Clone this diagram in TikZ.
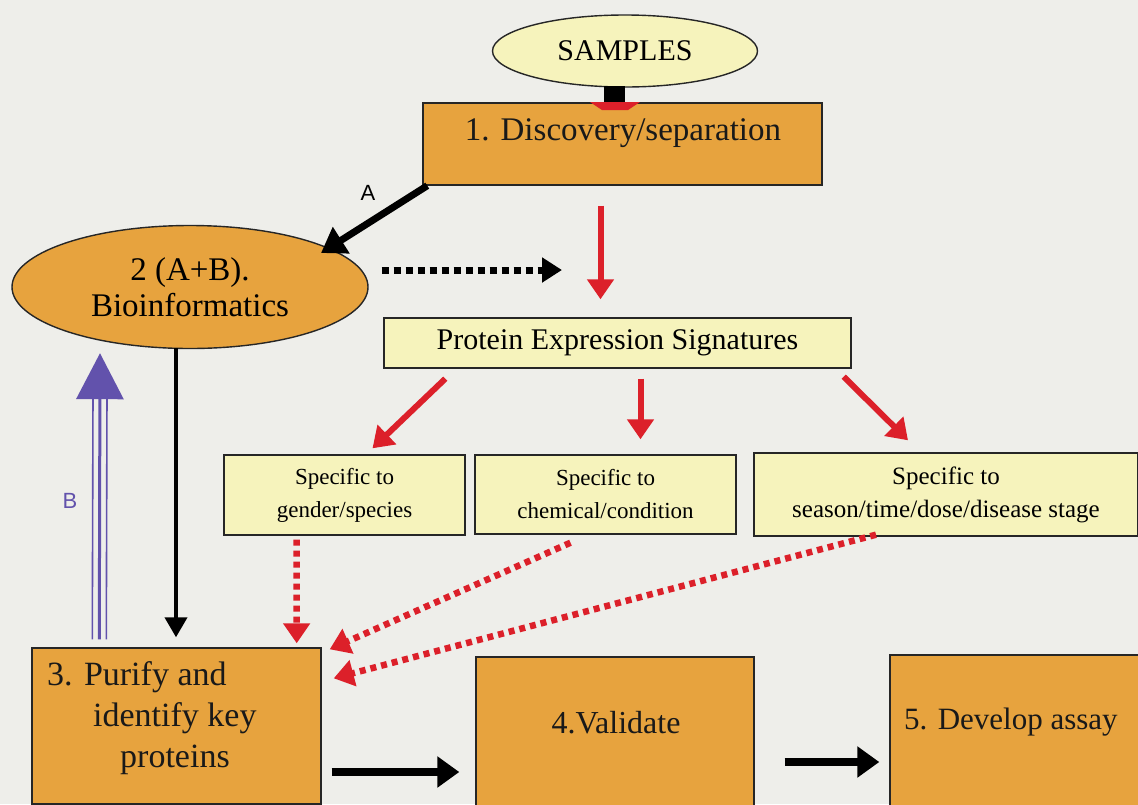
\documentclass[tikz,border=0pt]{standalone}
\usepackage{fontspec}
\setmainfont{Liberation Serif}
\newfontfamily\labfont{Liberation Sans}
\usetikzlibrary{shapes.geometric,arrows.meta,calc}
\definecolor{bg}{RGB}{238,238,234}
\definecolor{orng}{RGB}{231,163,62}
\definecolor{pyel}{RGB}{246,243,188}
\definecolor{rd}{RGB}{220,32,42}
\definecolor{blu}{RGB}{98,82,172}
\begin{document}
\begin{tikzpicture}[x=1pt,y=-1pt,
  obox/.style={draw=black!85, line width=1.4pt, fill=orng, rectangle, inner sep=0pt},
  ybox/.style={draw=black!85, line width=1.4pt, fill=pyel, rectangle, inner sep=0pt},
  txt/.style={inner sep=0pt, text=black!90},
  blk/.style={line width=6pt, draw=black, -{Triangle[length=20pt,width=26pt]}},
  red/.style={line width=6pt, draw=rd, -{Triangle[length=20pt,width=26pt]}},
  reddot/.style={line width=6.5pt, draw=rd, dash pattern=on 6pt off 5pt, -{Triangle[length=20pt,width=26pt]}},
  lab/.style={inner sep=0pt, font=\labfont\fontsize{22}{24}\selectfont}
]
\useasboundingbox (0,0) rectangle (1138,804);
\clip (0,0) rectangle (1138,804);
\fill[bg] (0,0) rectangle (1138,804);

% nodes
\node[ellipse, draw=black!85, line width=1.4pt, fill=pyel, inner sep=0pt,
      minimum width=265pt, minimum height=72pt,
      font=\fontsize{30}{32}\selectfont] (samples) at (625,51) {SAMPLES};
\node[obox, minimum width=399pt, minimum height=82pt] (disc) at (622.5,144) {};
\node[txt, font=\fontsize{33}{35}\selectfont] (disct) at (623,133) {1. Discovery/separation};

\node[ellipse, draw=black!85, line width=1.4pt, fill=orng, inner sep=0pt,
      minimum width=356pt, minimum height=123pt, align=center,
      font=\fontsize{33}{36}\selectfont] (bio) at (190,287) {2 (A+B).\\Bioinformatics};

\node[ybox, minimum width=467pt, minimum height=50pt,
      font=\fontsize{30}{32}\selectfont] (pes) at (617.5,343) {Protein Expression Signatures};

\node[ybox, minimum width=241pt, minimum height=80pt, align=center,
      font=\fontsize{23}{33}\selectfont] (s1) at (344.5,495) {Specific to\\gender/species};
\node[ybox, minimum width=261pt, minimum height=79pt, align=center,
      font=\fontsize{23}{33}\selectfont] (s2) at (605.5,494.5) {Specific to\\chemical/condition};
\node[ybox, minimum width=384pt, minimum height=83pt, align=center,
      font=\fontsize{25}{33}\selectfont] (s3) at (946,494.5) {Specific to\\season/time/dose/disease stage};

\node[obox, minimum width=289pt, minimum height=156pt] (b3) at (176.5,726) {};
\node[txt, font=\fontsize{34}{41}\selectfont, align=left, anchor=north west] (b3t) at (47,661)
      {3. Purify and\\\hspace*{46pt}identify key\\\hspace*{73pt}proteins};
\node[obox, minimum width=278pt, minimum height=160pt] (b4) at (615,737) {};
\node[txt, font=\fontsize{32}{34}\selectfont] (b4t) at (616,723) {4.Validate};
\node[obox, minimum width=260pt, minimum height=162pt] (b5) at (1020,736) {};
\node[txt, font=\fontsize{31}{33}\selectfont, anchor=west] (b5t) at (904,722) {5. Develop assay};

% samples -> discovery
\coordinate (sdTop) at (614.5,86);
\fill[rd] (590,102) -- (640,102) -- (628,110) -- (602,110) -- cycle;
\draw[line width=21pt, draw=black] (sdTop) -- (sdTop |- disc.north);

% A arrow
\coordinate (aS) at ($(disc.south west)+(5,0)$);
\coordinate (aE) at ($(bio.center)+(131,-34)$);
\draw[line width=7pt, draw=black, -{Triangle[length=24pt,width=30pt]}] (aS) -- (aE);
\node[lab] (A) at (368,193) {A};

% dotted black
\coordinate (dS) at ($(bio.east)+(13,-17)$);
\coordinate (dE) at (562,270);
\draw[line width=7pt, dash pattern=on 7pt off 5pt, -{Triangle[length=20pt,width=24pt]}] (dS) -- (dE);

% red down to PES
\coordinate (rS) at ($(disc.south)+(-22,20)$);
\draw[red] (rS) -- ($(pes.north)+(-17,-18)$);

% PES -> specifics
\draw[red] ($(pes.south west)+(62,10)$) -- ($(s1.north)+(28,-6)$);
\draw[red] ($(pes.south)+(23,10)$) -- ($(s2.north)+(35,-15)$);
\draw[red] ($(pes.south east)+(-8,8)$) -- ($(s3.north)+(-38,-12)$);

% black down from bio
\draw[line width=4pt, draw=black, -{Triangle[length=20pt,width=22pt]}] ($(bio.south)+(-14,-1)$) -- ($(b3.north)+(-0.5,-10)$);

% blue triple arrow
\coordinate (bS) at ($(b3.north west)+(68,-8)$);
\coordinate (bE) at ($(bio.south)+(-90,4)$);
\draw[line width=1.6pt, draw=blu] ($(bS)+(-7,0)$) -- ($(bE)+(-7,40)$);
\draw[line width=1.6pt, draw=blu] ($(bS)+(7,0)$) -- ($(bE)+(7,40)$);
\draw[line width=3pt, draw=blu, -{Triangle[length=46pt,width=47pt]}] (bS) -- (bE);
\node[lab, text=blu] (B) at (70,501) {B};

% red dotted to box 3
\draw[reddot] ($(s1.south)+(-48,4)$) -- ($(b3.north east)+(-25,-4)$);
\draw[reddot] ($(s2.south)+(-35,8)$) -- ($(b3.north east)+(8,2)$);
\draw[reddot] ($(s3.south)+(-70,-2)$) -- ($(b3.north east)+(12,31)$);

% bottom black arrows
\draw[line width=8pt, draw=black, -{Triangle[length=22pt,width=30pt]}] ($(b3.east)+(10,46)$) -- ($(b4.west)+(-16,35)$);
\draw[line width=8pt, draw=black, -{Triangle[length=22pt,width=30pt]}] ($(b4.east)+(30,25)$) -- ($(b5.west)+(-10,26)$);
\end{tikzpicture}
\end{document}
